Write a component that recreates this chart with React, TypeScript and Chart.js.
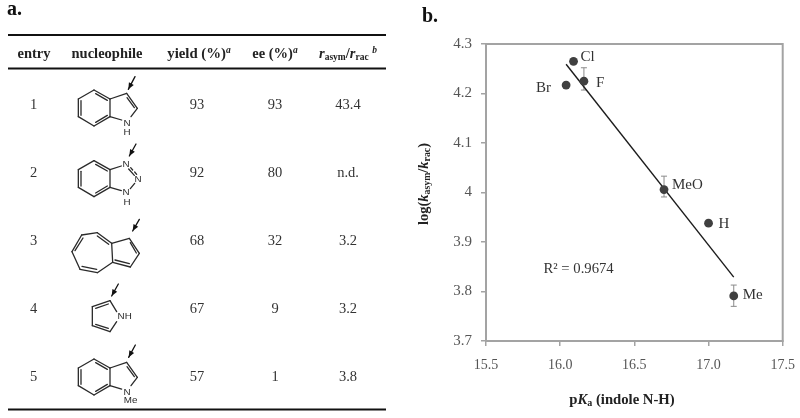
import React, { useEffect, useRef } from "react";
import { Chart, registerables } from "chart.js";

Chart.register(...registerables);

// ---- plot data ----
const substituents = ["Cl", "Br", "F", "MeO", "H", "Me"];
const pKa = [16.09, 16.04, 16.16, 16.7, 17.0, 17.17];
const logRatio = [4.265, 4.217, 4.225, 4.006, 3.938, 3.791];
const errorUp = [0, 0, 0.027, 0.027, 0, 0.022];
const errorDown = [0, 0, 0.018, 0.015, 0, 0.021];
const fitX = [16.04, 17.17];
const fitY = [4.259, 3.829];
const xTicks = [15.5, 16.0, 16.5, 17.0, 17.5];
const yTicks = [3.7, 3.8, 3.9, 4.0, 4.1, 4.2, 4.3];
const r2Label = "R² = 0.9674";

// ---- table data ----
const entries = ["1", "2", "3", "4", "5"];
const yields = ["93", "92", "68", "67", "57"];
const ees = ["93", "80", "32", "9", "1"];
const rates = ["43.4", "n.d.", "3.2", "3.2", "3.8"];

const SERIF = '"Liberation Serif", serif';
const SANS = '"Liberation Sans", sans-serif';

type Run = { t: string; w?: string; i?: boolean; s: number; dy?: number };

function runFont(r: Run) {
  return `${r.i ? "italic " : ""}${r.w || "normal"} ${r.s}px ${SERIF}`;
}

function richText(ctx: CanvasRenderingContext2D, runs: Run[], cx: number, y: number, color: string) {
  ctx.textBaseline = "alphabetic";
  ctx.textAlign = "left";
  ctx.fillStyle = color;
  let total = 0;
  for (const r of runs) {
    ctx.font = runFont(r);
    total += ctx.measureText(r.t).width;
  }
  let x = cx - total / 2;
  for (const r of runs) {
    ctx.font = runFont(r);
    ctx.fillText(r.t, x, y + (r.dy || 0));
    x += ctx.measureText(r.t).width;
  }
}

// Skeletal formula drawing, in units of 1/3 px, with an origin offset
type Seg = number[];
type Atom = { t: string; x: number; y: number };
type Mol = { segs: Seg[]; atoms: Atom[]; arrow: number[]; ox: number; oy: number };

const indoleSegs: Seg[] = [
  [235, 297, 282, 270], [282, 270, 330, 297], [330, 297, 330, 350], [330, 350, 282, 378],
  [282, 378, 235, 350], [235, 350, 235, 297], [243, 302, 243, 346], [287, 281, 322, 301],
  [287, 367, 322, 346], [330, 297, 380, 280], [380, 280, 412, 325], [412, 325, 393, 350],
  [330, 350, 365, 360], [381, 293, 403, 323],
];
const molecules: Mol[] = [
  {
    segs: indoleSegs, ox: 0, oy: 0, arrow: [405, 230, 385, 268],
    atoms: [{ t: "N", x: 381, y: 369 }, { t: "H", x: 381, y: 396 }],
  },
  {
    segs: [
      [235, 509, 282, 482], [282, 482, 330, 509], [330, 509, 330, 562], [330, 562, 282, 590],
      [282, 590, 235, 562], [235, 562, 235, 509], [243, 514, 243, 558], [287, 493, 322, 513],
      [287, 579, 322, 558], [330, 509, 364, 498], [330, 562, 364, 572], [386, 507, 403, 526],
      [392, 503, 398, 510], [404, 516, 410, 523], [404, 550, 391, 566],
    ],
    ox: 0, oy: 0, arrow: [408, 432, 388, 468],
    atoms: [
      { t: "N", x: 378, y: 492 }, { t: "N", x: 414, y: 537 },
      { t: "N", x: 378, y: 578 }, { t: "H", x: 381, y: 606 },
    ],
  },
  {
    segs: [
      [216, 125, 245, 75], [245, 75, 292, 68], [292, 68, 335, 100], [335, 100, 338, 157],
      [338, 157, 292, 188], [292, 188, 240, 178], [240, 178, 216, 125], [225, 122, 249, 84],
      [292, 78, 326, 103], [246, 169, 290, 178], [335, 100, 388, 85], [388, 85, 418, 130],
      [418, 130, 391, 171], [391, 171, 338, 157], [391, 98, 409, 129], [345, 150, 388, 161],
    ],
    ox: 0, oy: 630, arrow: [418, 28, 398, 63], atoms: [],
  },
  {
    segs: [
      [277, 290, 330, 272], [277, 290, 277, 347], [277, 347, 330, 365], [330, 272, 350, 305],
      [330, 365, 350, 335], [287, 295, 325, 282], [287, 343, 325, 355],
    ],
    ox: 0, oy: 630, arrow: [355, 222, 335, 258],
    atoms: [{ t: "NH", x: 374, y: 320 }],
  },
  {
    segs: indoleSegs, ox: 0, oy: 807, arrow: [406, 228, 386, 265],
    atoms: [{ t: "N", x: 381, y: 369 }, { t: "Me", x: 392, y: 394 }],
  },
];

function drawMolecule(ctx: CanvasRenderingContext2D, m: Mol) {
  const P = (v: number, o: number) => (v + o) / 3;
  ctx.strokeStyle = "#2a2a2a";
  ctx.lineWidth = 1.3;
  ctx.lineCap = "round";
  for (const s of m.segs) {
    ctx.beginPath();
    ctx.moveTo(P(s[0], m.ox), P(s[1], m.oy));
    ctx.lineTo(P(s[2], m.ox), P(s[3], m.oy));
    ctx.stroke();
  }
  const [ax, ay, bx, by] = m.arrow;
  const x0 = P(ax, m.ox), y0 = P(ay, m.oy), x1 = P(bx, m.ox), y1 = P(by, m.oy);
  ctx.strokeStyle = "#111";
  ctx.beginPath();
  ctx.moveTo(x0, y0);
  ctx.lineTo(x1, y1);
  ctx.stroke();
  const ang = Math.atan2(y1 - y0, x1 - x0);
  ctx.fillStyle = "#111";
  ctx.beginPath();
  ctx.moveTo(x1, y1);
  ctx.lineTo(x1 - 7 * Math.cos(ang - 0.4), y1 - 7 * Math.sin(ang - 0.4));
  ctx.lineTo(x1 - 7 * Math.cos(ang + 0.4), y1 - 7 * Math.sin(ang + 0.4));
  ctx.closePath();
  ctx.fill();
  ctx.font = `9.8px ${SANS}`;
  ctx.textAlign = "center";
  ctx.textBaseline = "middle";
  ctx.fillStyle = "#2a2a2a";
  for (const a of m.atoms) ctx.fillText(a.t, P(a.x, m.ox), P(a.y, m.oy));
}

const tablePlugin = {
  id: "tablePanel",
  afterDraw(chart: Chart) {
    const ctx = chart.ctx;
    ctx.save();
    // panel letters
    ctx.textAlign = "left";
    ctx.textBaseline = "alphabetic";
    ctx.fillStyle = "#111";
    ctx.font = `bold 20px ${SERIF}`;
    ctx.fillText("a.", 7, 15);
    ctx.fillText("b.", 422, 21.5);
    // rules
    ctx.fillStyle = "#111";
    ctx.fillRect(8, 34, 378, 2);
    ctx.fillRect(8, 67.5, 378, 2);
    ctx.fillRect(8, 408.5, 378, 2);
    // header
    const h = 58;
    richText(ctx, [{ t: "entry", w: "bold", s: 14.5 }], 34, h, "#222");
    richText(ctx, [{ t: "nucleophile", w: "bold", s: 14.5 }], 107, h, "#222");
    richText(ctx, [{ t: "yield (%)", w: "bold", s: 14.8 }, { t: "a", i: true, w: "bold", s: 9.5, dy: -5 }], 199, h, "#222");
    richText(ctx, [{ t: "ee (%)", w: "bold", s: 14.5 }, { t: "a", i: true, w: "bold", s: 9.5, dy: -5 }], 275, h, "#222");
    richText(ctx, [
      { t: "r", i: true, w: "bold", s: 14.5 },
      { t: "asym", w: "bold", s: 9.5, dy: 2 },
      { t: "/", w: "bold", s: 14.5 },
      { t: "r", i: true, w: "bold", s: 14.5 },
      { t: "rac", w: "bold", s: 9.5, dy: 2 },
      { t: " ", w: "bold", s: 14.5 },
      { t: "b", i: true, w: "bold", s: 9.5, dy: -5 },
    ], 348, h, "#222");
    // rows
    const rowY = [109, 177, 245, 313, 381];
    ctx.font = `14.5px ${SERIF}`;
    ctx.fillStyle = "#333";
    ctx.textAlign = "center";
    ctx.textBaseline = "alphabetic";
    entries.forEach((e, i) => {
      ctx.fillText(e, 33.5, rowY[i]);
      ctx.fillText(yields[i], 197, rowY[i]);
      ctx.fillText(ees[i], 275, rowY[i]);
      ctx.fillText(rates[i], 348, rowY[i]);
    });
    molecules.forEach((m) => drawMolecule(ctx, m));
    // axis titles
    richText(ctx, [
      { t: "p", w: "bold", s: 14.7 },
      { t: "K", i: true, w: "bold", s: 14.7 },
      { t: "a", w: "bold", s: 10, dy: 2 },
      { t: " (indole N-H)", w: "bold", s: 14.7 },
    ], 622, 404, "#222");
    ctx.save();
    ctx.translate(428, 184);
    ctx.rotate(-Math.PI / 2);
    richText(ctx, [
      { t: "log(", w: "bold", s: 14.5 },
      { t: "k", i: true, w: "bold", s: 14.5 },
      { t: "asym", w: "bold", s: 9.8, dy: 2 },
      { t: "/", w: "bold", s: 14.5 },
      { t: "k", i: true, w: "bold", s: 14.5 },
      { t: "rac", w: "bold", s: 9.8, dy: 2 },
      { t: ")", w: "bold", s: 14.5 },
    ], 0, 0, "#222");
    ctx.restore();
    ctx.restore();
  },
};

const frameAndErrors = {
  id: "frameAndErrors",
  beforeDatasetsDraw(chart: Chart) {
    const { ctx, chartArea: a, scales } = chart;
    ctx.save();
    ctx.strokeStyle = "#a3a3a3";
    ctx.lineWidth = 2;
    ctx.strokeRect(a.left, a.top, a.right - a.left, a.bottom - a.top);
    ctx.strokeStyle = "#8a8a8a";
    ctx.lineWidth = 1;
    pKa.forEach((x, i) => {
      if (!errorUp[i] && !errorDown[i]) return;
      const px = scales.x.getPixelForValue(x);
      const t = scales.y.getPixelForValue(logRatio[i] + errorUp[i]);
      const bt = scales.y.getPixelForValue(logRatio[i] - errorDown[i]);
      ctx.beginPath();
      ctx.moveTo(px, t);
      ctx.lineTo(px, bt);
      ctx.moveTo(px - 3, t);
      ctx.lineTo(px + 3, t);
      ctx.moveTo(px - 3, bt);
      ctx.lineTo(px + 3, bt);
      ctx.stroke();
    });
    ctx.restore();
  },
  afterDatasetsDraw(chart: Chart) {
    const { ctx, scales } = chart;
    const offsets: Record<string, number[]> = {
      Cl: [7, -4, 0], Br: [-15, 3, 1], F: [12, 2, 0], MeO: [8, -4.5, 0], H: [10, 1, 0], Me: [9, -1, 0],
    };
    ctx.save();
    ctx.font = `15px ${SERIF}`;
    ctx.fillStyle = "#333";
    ctx.textBaseline = "middle";
    substituents.forEach((s, i) => {
      const o = offsets[s];
      ctx.textAlign = o[2] ? "right" : "left";
      ctx.fillText(s, scales.x.getPixelForValue(pKa[i]) + o[0], scales.y.getPixelForValue(logRatio[i]) + o[1]);
    });
    ctx.textAlign = "left";
    ctx.font = `14.7px ${SERIF}`;
    ctx.fillText(r2Label, 543.5, 269);
    ctx.restore();
  },
};

export default function App() {
  const ref = useRef<HTMLCanvasElement>(null);
  useEffect(() => {
    const chart = new Chart(ref.current!, {
      type: "scatter",
      data: {
        datasets: [
          {
            label: "Fit",
            type: "line",
            data: fitX.map((x, i) => ({ x, y: fitY[i] })),
            borderColor: "#1c1c1c",
            borderWidth: 1.4,
            pointRadius: 0,
            fill: false,
            order: 2,
          },
          {
            label: "log(kasym/krac)",
            data: pKa.map((x, i) => ({ x, y: logRatio[i] })),
            backgroundColor: "#404040",
            borderColor: "#404040",
            borderWidth: 0,
            pointRadius: 4.4,
            order: 1,
          },
        ],
      } as any,
      options: {
        animation: false,
        responsive: false,
        layout: { padding: { left: 0, top: 44, right: 17.3, bottom: 0 } },
        plugins: { legend: { display: false }, tooltip: { enabled: false } },
        scales: {
          x: {
            type: "linear",
            min: 15.5,
            max: 17.5,
            afterBuildTicks: (s: any) => { s.ticks = xTicks.map((value) => ({ value })); },
            afterFit: (s: any) => { s.height = 77; s.paddingLeft = 0; s.paddingRight = 0; },
            grid: { drawOnChartArea: false, color: "#a3a3a3", tickLength: 5, lineWidth: 1.5 },
            border: { color: "#a3a3a3", width: 2 },
            ticks: {
              color: "#555",
              padding: 11,
              maxRotation: 0,
              font: { family: SERIF, size: 14 },
              callback: (v: any) => Number(v).toFixed(1),
            },
          },
          y: {
            type: "linear",
            min: 3.7,
            max: 4.3,
            afterBuildTicks: (s: any) => { s.ticks = yTicks.map((value) => ({ value })); },
            afterFit: (s: any) => { s.width = 486; s.paddingTop = 0; s.paddingBottom = 0; },
            grid: { drawOnChartArea: false, color: "#a3a3a3", tickLength: 5, lineWidth: 1.5 },
            border: { color: "#a3a3a3", width: 2 },
            ticks: {
              color: "#555",
              padding: 9,
              font: { family: SERIF, size: 15 },
              callback: (v: any) => String(Number(Number(v).toFixed(1))),
            },
          },
        },
      },
      plugins: [frameAndErrors, tablePlugin],
    } as any);
    return () => chart.destroy();
  }, []);
  return (
    <div style={{ position: "absolute", left: 0, top: 0, width: 800, height: 418, background: "#fff" }}>
      <canvas ref={ref} width={800} height={418} style={{ display: "block", filter: "blur(0.35px)" }} />
    </div>
  );
}
